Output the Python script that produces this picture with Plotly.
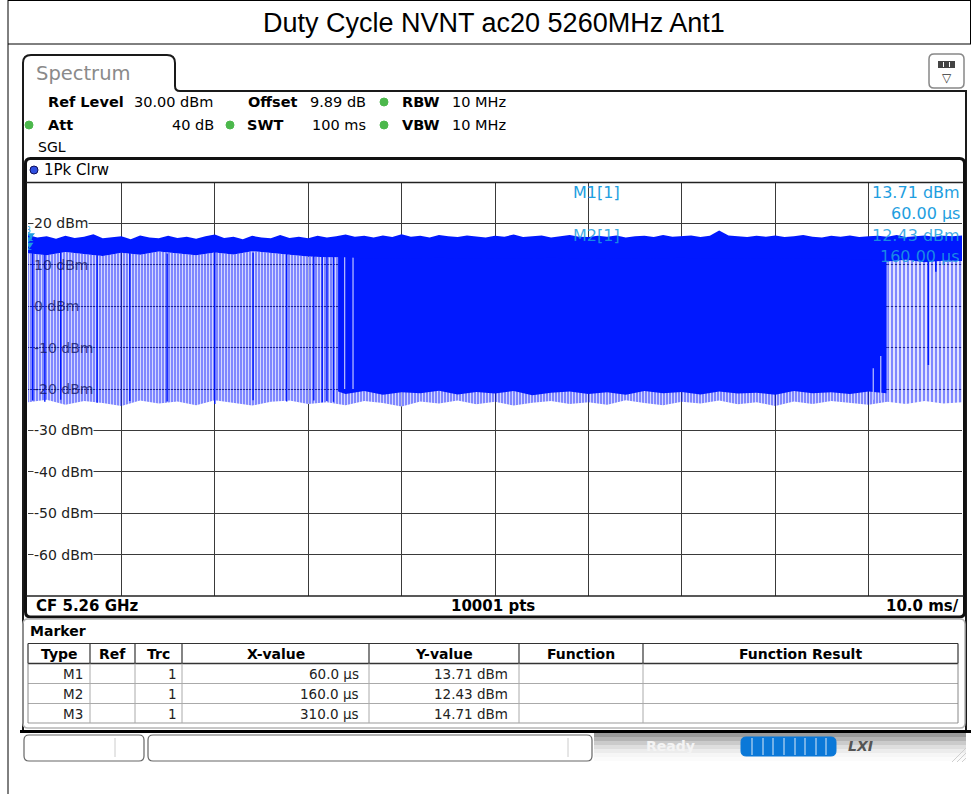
import numpy as np
import plotly.graph_objects as go

W, H = 971, 794

# ---------------- data ----------------
title_text = "Duty Cycle NVNT ac20 5260MHz Ant1"

# y axis (Ref level 30 dBm, 10 dB / div), x axis 0..100 ms (10 ms / div)
y_grid_dbm = [20, 10, 0, -10, -20, -30, -40, -50, -60]
y_grid_labels = ["20 dBm", "10 dBm", "0 dBm", "-10 dBm", "-20 dBm",
                 "-30 dBm", "-40 dBm", "-50 dBm", "-60 dBm"]

# markers
marker_names = ["M1", "M2", "M3"]
marker_trc = [1, 1, 1]
marker_x_us = [60.0, 160.0, 310.0]
marker_y_dbm = [13.71, 12.43, 14.71]

# upper edge of the peak trace, 1 ms spacing (dBm)
t_top = [0, 1, 2, 3, 4, 5, 6, 7, 8, 9, 10, 11, 12, 13, 14, 15, 16, 17, 18, 19,
         20, 21, 22, 23, 24, 25, 26, 27, 28, 29, 30, 31, 32, 33, 34, 35, 36, 37, 38, 39,
         40, 41, 42, 43, 44, 45, 46, 47, 48, 49, 50, 51, 52, 53, 54, 55, 56, 57, 58, 59,
         60, 61, 62, 63, 64, 65, 66, 67, 68, 69, 70, 71, 72, 73, 74, 75, 76, 77, 78, 79,
         80, 81, 82, 83, 84, 85, 86, 87, 88, 89, 90, 91, 92, 93, 94, 95, 96, 97, 98, 99, 100]
peak_top = [17.2, 16.6, 16.9, 16.3, 17.0, 16.5, 16.8, 17.4, 16.4, 16.7,
            16.9, 16.2, 17.1, 16.6, 16.4, 17.0, 16.5, 16.8, 16.3, 16.9,
            17.3, 16.5, 16.8, 16.2, 17.0, 16.6, 16.4, 17.2, 16.5, 16.8,
            16.4, 17.0, 16.6, 16.9, 17.3, 16.8, 17.0, 16.6, 17.1, 16.7,
            17.4, 16.8, 17.0, 16.6, 17.2, 16.9, 16.7, 17.1, 16.8, 16.6,
            17.0, 16.8, 17.3, 16.7, 16.9, 17.1, 16.6, 16.9, 17.2, 16.8,
            16.7, 17.0, 16.8, 17.1, 16.6, 16.9, 17.0, 16.7, 17.2, 16.8,
            16.9, 17.1, 16.7, 17.0, 18.3, 17.1, 16.9, 16.7, 17.0, 16.8,
            17.1, 16.7, 16.9, 17.2, 16.8, 16.6, 17.0, 16.8, 17.1, 16.7,
            16.9, 17.0, 16.8, 17.2, 16.7, 16.9, 17.1, 16.8, 17.0, 16.9, 17.1]

# lower edge of the dense top band and lower edge of the light floor, 2 ms spacing
t_env = [0, 2, 4, 6, 8, 10, 12, 14, 16, 18, 20, 22, 24, 26, 28, 30, 32, 34, 36, 38,
         40, 42, 44, 46, 48, 50, 52, 54, 56, 58, 60, 62, 64, 66, 68, 70, 72, 74, 76, 78,
         80, 82, 84, 86, 88, 90, 92, 94, 96, 98, 100]
band_lo = [12.8, 12.3, 13.1, 12.6, 12.1, 12.9, 12.4, 13.2, 12.7, 12.3,
           13.0, 12.5, 13.3, 12.8, 12.4, 12.0, 11.8, 11.8, 11.6, 11.5,
           11.6, 11.5, 11.7, 11.5, 11.6, 11.4, 11.6, 11.5, 11.7, 11.5,
           11.6, 11.4, 11.5, 11.6, 11.5, 11.7, 11.4, 11.6, 11.5, 11.6,
           11.4, 11.5, 11.6, 11.5, 11.4, 11.3, 10.8, 11.2, 10.6, 11.0, 10.9]
floor_light = [-23.2, -22.6, -23.8, -22.9, -23.4, -24.1, -22.8, -23.5, -23.0, -23.9,
               -22.7, -23.3, -24.0, -23.1, -22.8, -23.6, -23.2, -23.9, -22.9, -23.4,
               -24.2, -23.0, -23.5, -22.8, -23.7, -23.1, -24.0, -23.3, -22.9, -23.6,
               -23.2, -23.8, -22.7, -23.4, -23.9, -23.1, -23.5, -22.8, -23.7, -23.2,
               -24.1, -23.0, -23.6, -22.9, -23.4, -23.8, -23.1, -23.6, -22.9, -23.5, -23.2]

# continuous burst section (solid)
burst_t = [33.2, 34, 36, 38, 40, 42, 44, 46, 48, 50, 52, 54, 56, 58, 60, 62, 64, 66,
           68, 70, 72, 74, 76, 78, 80, 82, 84, 86, 88, 90, 91.9]
burst_floor = [-20.6, -21.2, -20.5, -21.4, -20.8, -21.0, -20.4, -21.3, -20.7, -21.1,
               -20.5, -21.5, -20.9, -20.6, -21.2, -20.8, -21.4, -20.5, -21.0, -20.7,
               -21.3, -20.6, -21.1, -20.9, -21.4, -20.5, -21.0, -20.8, -21.2, -20.6, -21.0]
burst_core_top = [14.8, 15.0, 14.9, 15.1, 14.8, 15.0, 14.9, 15.2, 14.8, 15.0,
                  14.9, 15.1, 14.8, 15.0, 14.9, 15.1, 14.8, 15.0, 14.9, 15.1,
                  14.8, 15.0, 14.9, 15.1, 14.8, 15.0, 14.9, 15.1, 14.8, 15.0, 14.9]

# isolated strong bursts in the sparse section (ms, bottom dBm, top dBm)
spike_t = [0.5, 1.8, 3.5, 7.4, 10.9, 14.9, 20.0, 24.1, 27.7, 30.6, 31.5, 32.0, 32.7]
spike_lo = [-22.8, -23.1, -22.6, -23.3, -22.9, -23.0, -23.6, -22.7, -23.0, -22.8, -23.2, -22.9, -23.1]
spike_hi = [13.0, 12.8, 13.1, 12.9, 13.0, 12.7, 13.2, 12.9, 12.8, 12.5, 12.4, 12.3, 12.2]

# gaps inside / at the edges of the continuous section
gap_t = [33.9, 34.8, 90.5, 91.3]
gap_lo = [-20.0, -20.0, -22.6, -22.8]
gap_hi = [12.0, 12.0, -15.0, -12.0]

# dark bursts in the tail section
tail_t = [96.4, 97.2]
tail_lo = [-14.2, 8.3]
tail_hi = [12.0, 12.0]

# ---------------- helpers ----------------
def px(x):
    return x / W


def py(y):
    return 1 - y / H


shapes = []
annotations = []

FONT_UI = "DejaVu Sans, Verdana, sans-serif"
FONT_TITLE = "Liberation Sans, Arial, sans-serif"
CYAN = "#1e9ee0"


def rect(x0, y0, x1, y1, fill=None, color=None, width=1, layer="above"):
    shapes.append(dict(type="rect", xref="paper", yref="paper",
                       x0=px(x0), x1=px(x1), y0=py(y1), y1=py(y0),
                       fillcolor=fill if fill else "rgba(0,0,0,0)",
                       line=dict(color=color if color else "rgba(0,0,0,0)", width=width if color else 0),
                       layer=layer))


def hline(x0, x1, y, color, width=1):
    shapes.append(dict(type="line", xref="paper", yref="paper",
                       x0=px(x0), x1=px(x1), y0=py(y), y1=py(y),
                       line=dict(color=color, width=width)))


def vline(x, y0, y1, color, width=1):
    shapes.append(dict(type="line", xref="paper", yref="paper",
                       x0=px(x), x1=px(x), y0=py(y0), y1=py(y1),
                       line=dict(color=color, width=width)))


def P(x, y):
    return f"{px(x):.6f},{py(y):.6f}"


def rrect(x0, y0, x1, y1, r, color, width=1, fill=None):
    d = (f"M {P(x0 + r, y0)} L {P(x1 - r, y0)} Q {P(x1, y0)} {P(x1, y0 + r)} "
         f"L {P(x1, y1 - r)} Q {P(x1, y1)} {P(x1 - r, y1)} L {P(x0 + r, y1)} "
         f"Q {P(x0, y1)} {P(x0, y1 - r)} L {P(x0, y0 + r)} Q {P(x0, y0)} {P(x0 + r, y0)} Z")
    shapes.append(dict(type="path", xref="paper", yref="paper", path=d,
                       line=dict(color=color, width=width),
                       fillcolor=fill if fill else "rgba(0,0,0,0)"))


def dot(cx, cy, r, fill, color=None):
    shapes.append(dict(type="circle", xref="paper", yref="paper",
                       x0=px(cx - r), x1=px(cx + r), y0=py(cy + r), y1=py(cy - r),
                       fillcolor=fill, line=dict(color=color if color else fill, width=1)))


def ann(x, y, s, size=14, color="#000", anchor="left", weight="normal",
        family=FONT_UI, bg=None):
    d = dict(x=px(x), y=py(y), xref="paper", yref="paper", text=s, showarrow=False,
             xanchor=anchor, yanchor="middle", borderpad=0,
             font=dict(family=family, size=size, color=color, weight=weight))
    if bg:
        d["bgcolor"] = bg
    annotations.append(d)


# ---------------- traces ----------------
fig = go.Figure()

DARK = "rgb(0,24,255)"
idx_c = t_env.index(92)

# sparse section + light floor
xa = t_env[:idx_c + 1]
fig.add_trace(go.Scatter(
    x=xa + xa[::-1], y=floor_light[:idx_c + 1] + band_lo[:idx_c + 1][::-1],
    fill="toself", mode="lines", line=dict(width=0), hoverinfo="skip",
    fillcolor="rgba(0,15,255,0.5)",
    fillpattern=dict(shape="|", size=3, solidity=0.3, fgcolor="white", fgopacity=0.75,
                     bgcolor="rgba(0,15,255,0.5)")))
# tail section
xc = t_env[idx_c:]
fig.add_trace(go.Scatter(
    x=xc + xc[::-1], y=floor_light[idx_c:] + band_lo[idx_c:][::-1],
    fill="toself", mode="lines", line=dict(width=0), hoverinfo="skip",
    fillcolor="rgba(0,15,255,0.5)",
    fillpattern=dict(shape="|", size=4, solidity=0.45, fgcolor="white", fgopacity=0.85,
                     bgcolor="rgba(0,15,255,0.5)")))
# continuous burst
fig.add_trace(go.Scatter(
    x=burst_t + burst_t[::-1], y=burst_floor + burst_core_top[::-1],
    fill="toself", mode="lines", line=dict(width=0), hoverinfo="skip", fillcolor=DARK))


def seg_xy(ts, los, his):
    xs, ys = [], []
    for t, lo, hi in zip(ts, los, his):
        xs += [t, t, None]
        ys += [lo, hi, None]
    return xs, ys


gx, gy = seg_xy(gap_t, gap_lo, gap_hi)
fig.add_trace(go.Scatter(x=gx, y=gy, mode="lines", hoverinfo="skip",
                         line=dict(color="rgb(175,182,255)", width=1.3)))

# dense top band
fig.add_trace(go.Scatter(
    x=t_top + t_env[::-1], y=peak_top + band_lo[::-1],
    fill="toself", mode="lines", line=dict(width=0), hoverinfo="skip", fillcolor=DARK))

sx, sy = seg_xy(spike_t, spike_lo, spike_hi)
fig.add_trace(go.Scatter(x=sx, y=sy, mode="lines", hoverinfo="skip",
                         line=dict(color=DARK, width=1.4)))
tx, ty = seg_xy(tail_t, tail_lo, tail_hi)
fig.add_trace(go.Scatter(x=tx, y=ty, mode="lines", hoverinfo="skip",
                         line=dict(color=DARK, width=1.6)))

# markers (symbols at the left edge of the sweep)
fig.add_trace(go.Scatter(
    x=[v / 1000 for v in marker_x_us], y=[v + 2.5 for v in marker_y_dbm],
    mode="markers", hoverinfo="skip",
    marker=dict(symbol="triangle-down", size=7, color=CYAN)))
# marker numbers, staggered so they do not collide
fig.add_trace(go.Scatter(
    x=[v / 1000 for v in marker_x_us], y=[v + 2.5 for v in marker_y_dbm],
    mode="text", hoverinfo="skip",
    text=[n[1:] for n in marker_names],
    textposition=["middle right", "bottom center", "top left"],
    textfont=dict(family=FONT_UI, size=8, color=CYAN)))

# ---------------- chrome ----------------
# outer page frame + title
vline(8, 0, 794, "#000", 1)
hline(8, 971, 0.5, "#000", 1)
hline(8, 971, 44, "#000", 1)
vline(970.5, 0, 44, "#000", 1)
ann(494, 23, title_text, size=27, family=FONT_TITLE, anchor="center", color="#000")

# spectrum tab / panel outline
tab = (f"M {P(23, 731)} L {P(23, 63)} Q {P(23, 55)} {P(31, 55)} L {P(167, 55)} "
       f"Q {P(175, 55)} {P(175, 63)} L {P(175, 86)} Q {P(175, 91)} {P(180, 91)} L {P(966, 91)} L {P(966, 731)}")
shapes.append(dict(type="path", xref="paper", yref="paper", path=tab,
                   line=dict(color="#1a1a1a", width=2)))
ann(35, 73, "Spectrum", size=19.5, color="#8a8a8a")

# top-right icon
rrect(929, 54, 964, 88, 5, "#888", 1.5, fill="white")
rect(938, 61, 955, 68, fill="#444")
vline(943.5, 62, 67, "white", 1)
vline(949.5, 62, 67, "white", 1)
ann(946.5, 78, "▽", size=12, color="#333", anchor="center")

# setting lines
ann(47, 102, "Ref Level", size=14.5, weight="bold")
ann(133, 102, "30.00 dBm", size=14.5)
ann(247, 102, "Offset", size=14.5, weight="bold")
ann(309, 102, "9.89 dB", size=14.5)
dot(384, 102, 4, "#4cb84c")
ann(401, 102, "RBW", size=14.5, weight="bold")
ann(451, 102, "10 MHz", size=14.5)
dot(29, 125, 4, "#4cb84c")
ann(47, 125, "Att", size=14.5, weight="bold")
ann(215, 125, "40 dB", size=14.5, anchor="right")
dot(230, 125, 4, "#4cb84c")
ann(246, 125, "SWT", size=14.5, weight="bold")
ann(367, 125, "100 ms", size=14.5, anchor="right")
dot(384, 125, 4, "#4cb84c")
ann(401, 125, "VBW", size=14.5, weight="bold")
ann(451, 125, "10 MHz", size=14.5)
ann(37, 147, "SGL", size=14)

# diagram frame
rrect(25.5, 158.5, 964.5, 617, 5, "#111", 3)
hline(26, 964, 182.5, "#222", 1.5)
hline(26, 964, 596, "#222", 1.5)
dot(34, 170, 4, "#2f4fe0", "#10105a")
ann(43, 170, "1Pk Clrw", size=15)

# marker readout box (behind the trace, above the grid)
rect(571, 183.5, 962, 262, fill="white", layer="between")
ann(572, 193, f"{marker_names[0]}[{marker_trc[0]}]", size=16, color=CYAN)
ann(961, 193, f"{marker_y_dbm[0]:.2f} dBm", size=16, color=CYAN, anchor="right")
ann(961, 213, f"{marker_x_us[0]:.2f} µs", size=16, color=CYAN, anchor="right")
ann(572, 236, f"{marker_names[1]}[{marker_trc[1]}]", size=16, color="rgba(30,158,224,0.85)")
ann(961, 236, f"{marker_y_dbm[1]:.2f} dBm", size=16, color="rgba(30,158,224,0.85)", anchor="right")
ann(961, 256, f"{marker_x_us[1]:.2f} µs", size=16, color="rgba(30,158,224,0.85)", anchor="right")

# y grid labels
for v, lab in zip(y_grid_dbm, y_grid_labels):
    ypix = 182 + (30 - v) * 4.14
    if -25 < v < 15:
        ann(33, ypix, lab, size=14, color="rgba(15,20,100,0.8)")
    else:
        ann(33, ypix, lab, size=14, color="#222", bg="white")

# bottom info line
ann(35, 606, "CF 5.26 GHz", size=15, weight="bold")
ann(493, 606, "10001 pts", size=15, weight="bold", anchor="center")
ann(960, 606, "10.0 ms/", size=15, weight="bold", anchor="right")

# marker table
rrect(23, 619, 965, 728, 5, "#b5b5b5", 1.5)
ann(29, 631, "Marker", size=14, weight="bold")
col_x = [28, 90, 135, 182, 369, 519, 643, 958]
hline(28, 958, 643.5, "#333", 1)
hline(28, 958, 663.5, "#333", 1.5)
hline(28, 958, 683.5, "#aaa", 1)
hline(28, 958, 703.5, "#aaa", 1)
hline(28, 958, 723, "#999", 1)
for i, cx in enumerate(col_x):
    vline(cx, 643.5, 663.5, "#333", 1.2)
    vline(cx, 663.5, 723, "#aaa" if 0 < i < len(col_x) - 1 else "#888", 1)
heads = ["Type", "Ref", "Trc", "X-value", "Y-value", "Function", "Function Result"]
for i, h in enumerate(heads):
    ann((col_x[i] + col_x[i + 1]) / 2, 653.5, h, size=14, weight="bold", anchor="center")
for r, (nm, tr, xv, yv) in enumerate(zip(marker_names, marker_trc, marker_x_us, marker_y_dbm)):
    yy = 673.5 + 20 * r
    ann(84, yy, nm, size=13.5, color="#222", anchor="right")
    ann(178, yy, str(tr), size=13.5, color="#222", anchor="right")
    ann(360, yy, f"{xv:.1f} µs", size=13.5, color="#222", anchor="right")
    ann(509, yy, f"{yv:.2f} dBm", size=13.5, color="#222", anchor="right")

# status bar
hline(20, 971, 731.5, "#000", 3)
grad = ["#9a9a9a", "#b4b4b4", "#cbcbcb", "#dedede", "#ececec", "#f6f6f6", "#fbfbfb"]
for i, c in enumerate(grad):
    rect(594, 733 + i * 4, 966, 737 + i * 4, fill=c)
rrect(24, 735, 144, 761, 5, "#666", 1.2, fill="white")
vline(115, 738, 757, "#ccc", 1)
rrect(148, 735, 592, 761, 5, "#666", 1.2, fill="white")
vline(568, 738, 757, "#ccc", 1)
ann(645, 746, "Ready", size=14, color="#f4f4f4", weight="bold")
rrect(741, 737, 836, 756, 5, "#0a78d8", 1, fill="#0a78d8")
for xx in [752, 763, 773, 784, 795, 805, 816, 826]:
    vline(xx, 738, 755, "#dbe9f7", 1)
ann(860, 746, "<i>LXI</i>", size=14, color="#555", weight="bold", anchor="center")
for k in range(3):
    shapes.append(dict(type="line", xref="paper", yref="paper",
                       x0=px(952 + 5 * k), y0=py(762), x1=px(966), y1=py(748 + 5 * k),
                       line=dict(color="#cfcfcf", width=1)))

# ---------------- layout ----------------
fig.update_layout(
    width=W, height=H, margin=dict(l=0, r=0, t=0, b=0),
    paper_bgcolor="white", plot_bgcolor="white", showlegend=False,
    xaxis=dict(domain=[px(28), px(962)], range=[0, 100], tick0=0, dtick=10,
               showgrid=True, gridcolor="#3a3a3a", gridwidth=1, zeroline=False,
               showticklabels=False, ticks="", fixedrange=True),
    yaxis=dict(domain=[py(596), py(182)], range=[-70, 30], tick0=-70, dtick=10,
               showgrid=True, gridcolor="#3a3a3a", gridwidth=1, zeroline=False,
               showticklabels=False, ticks="", fixedrange=True),
    shapes=shapes, annotations=annotations,
)

fig.write_html("out.html", config={"displayModeBar": False},
               post_script="document.body.style.margin='0';document.body.style.overflow='hidden';")
